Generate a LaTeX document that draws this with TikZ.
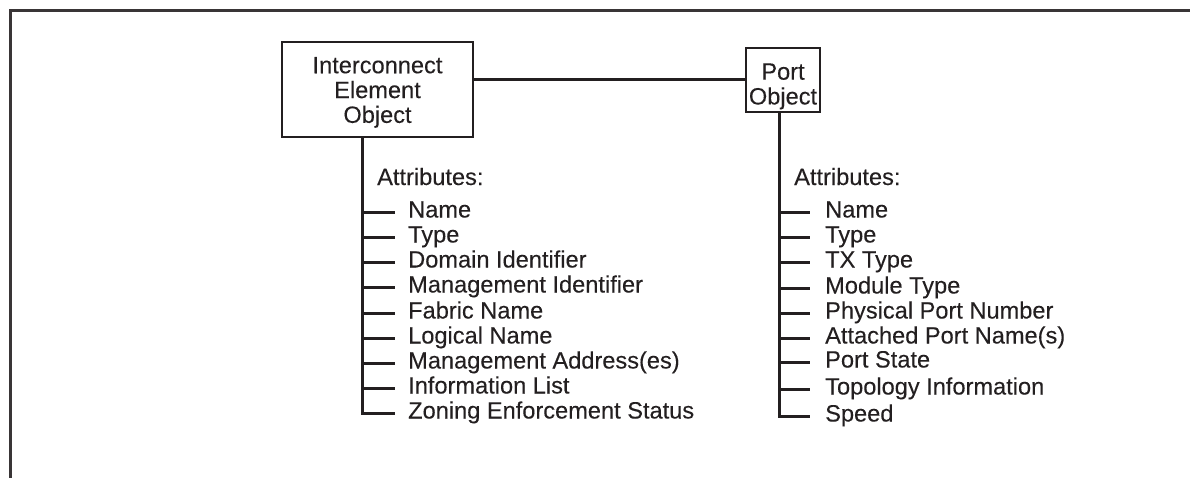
\documentclass[tikz,border=0pt]{standalone}
\usepackage{fontspec}
\setmainfont{Liberation Sans}[FakeBold=0.15]
\definecolor{ink}{HTML}{231F20}
\begin{document}
\begin{tikzpicture}[x=1pt,y=-1pt,
  every node/.style={text=ink, font=\fontsize{23.6}{24.8}\selectfont},
  objbox/.style={draw=ink, line width=1.9pt, align=center, inner sep=0pt},
  item/.style={anchor=base west, inner sep=0pt},
  wire/.style={draw=ink, line width=3pt},
  frame/.style={draw=ink!90, line width=3pt}]
\useasboundingbox (0,0) rectangle (1190,477);
% frame
\coordinate (fbl) at (10.5,478);
\coordinate (ftl) at (10.5,10.5);
\coordinate (ftr) at (1191,10.5);
\draw[frame] (fbl) -- (ftl) -- (ftr);
% boxes
\node[objbox, minimum width=191pt, minimum height=95pt] (ie) at (377.5,89.5) {\rule{0pt}{22pt}Interconnect\\Element\\Object};
\node[objbox, minimum width=74pt, minimum height=64pt] (port) at (783,80) {\rule{0pt}{29pt}Port\\Object};
\draw[wire] (ie.east |- 0,79.5) -- (port.west |- 0,79.5);
% left list
\coordinate (lt) at (362.5,137);
\coordinate (lb) at (362.5,413.5);
\draw[wire] (lt) -- (lb) -- (395,413.5);
\node[item] (la) at (377,185) {Attributes:};
\foreach \y/\t/\n in {212.5/Name/l1,237.5/Type/l2,262.5/Domain Identifier/l3,287.5/Management Identifier/l4,313.5/Fabric Name/l5,338.5/Logical Name/l6,363.5/Management Address(es)/l7,388.5/Information List/l8,413.5/Zoning Enforcement Status/l9}{
  \draw[wire] (362.5,\y) -- (395,\y);
  \node[item] (\n) at (408,\y+5) {\t};
}
% right list
\coordinate (rt) at (779.5,112);
\coordinate (rb) at (779.5,416.5);
\draw[wire] (rt) -- (rb) -- (810,416.5);
\node[item] (ra) at (794,185) {Attributes:};
\foreach \y/\t/\n in {212.5/Name/r1,237.5/Type/r2,262.5/TX Type/r3,288.5/Module Type/r4,313.5/Physical Port Number/r5,338.5/Attached Port Name(s)/r6,362.5/Port State/r7,389.5/Topology Information/r8,416.5/Speed/r9}{
  \draw[wire] (779.5,\y) -- (810,\y);
  \node[item] (\n) at (825,\y+5) {\t};
}
\end{tikzpicture}
\end{document}
